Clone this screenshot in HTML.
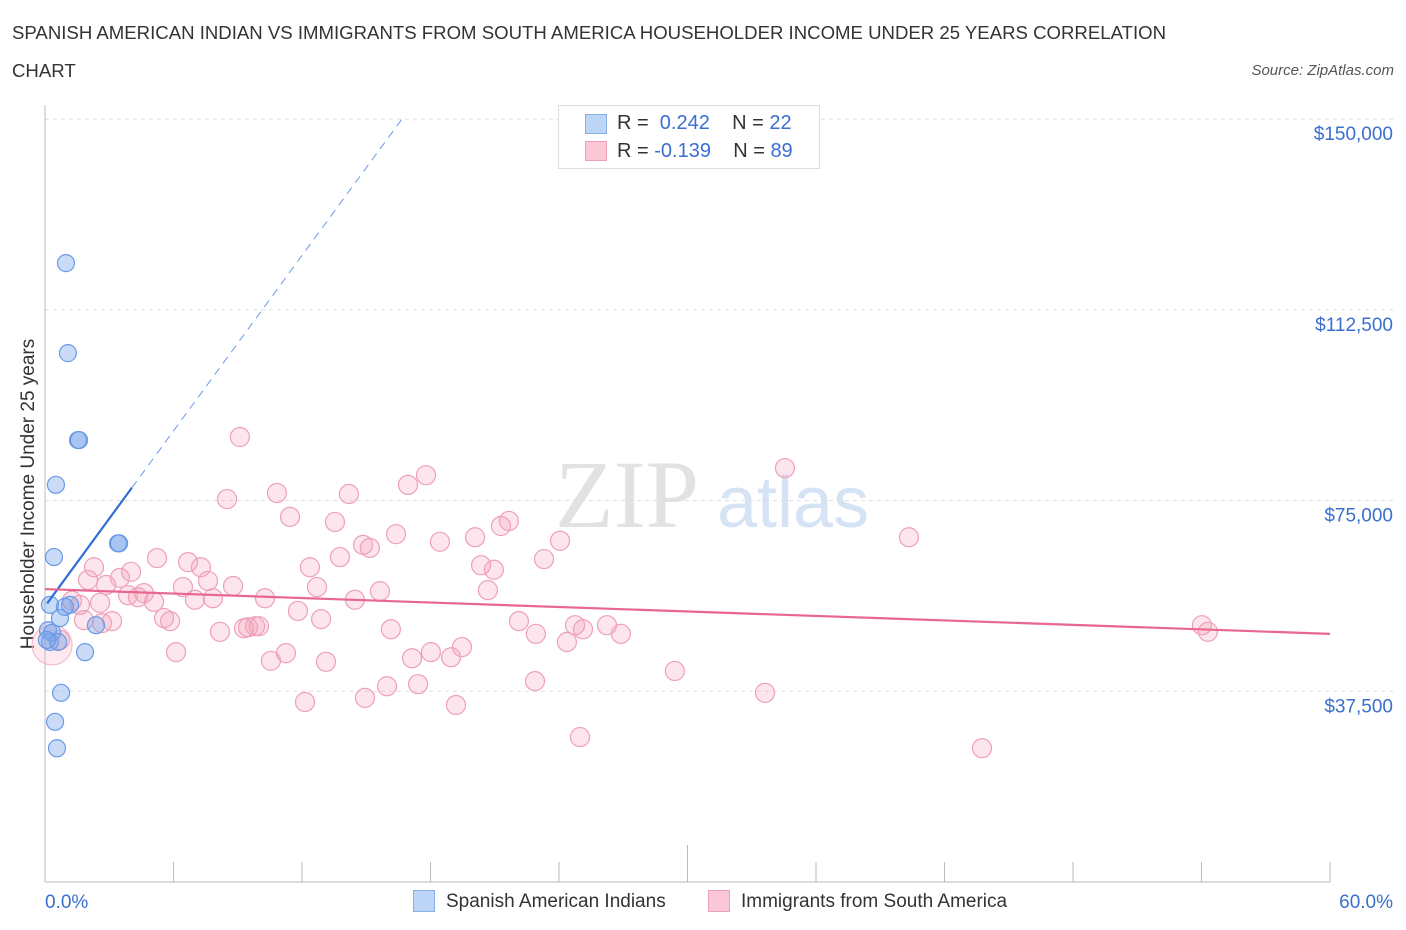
<!DOCTYPE html>
<html><head><meta charset="utf-8"><style>
body{margin:0;background:#fff;font-family:"Liberation Sans",sans-serif;}
#wrap{position:relative;width:1406px;height:930px;overflow:hidden;}
.t{position:absolute;white-space:nowrap;}
</style></head><body>
<div id="wrap">
<div class="t" style="left:12px;top:22px;font-size:18.6px;color:#333;">SPANISH AMERICAN INDIAN VS IMMIGRANTS FROM SOUTH AMERICA HOUSEHOLDER INCOME UNDER 25 YEARS CORRELATION</div>
<div class="t" style="left:12px;top:60px;font-size:18.6px;color:#333;">CHART</div>
<div class="t" style="right:12px;top:62px;font-size:15px;color:#555;font-style:italic;">Source: ZipAtlas.com</div>
<svg id="plot" width="1406" height="930" style="position:absolute;left:0;top:0;"></svg>
</div>
<script>
const blueX=[0.98,1.07,1.54,1.59,0.51,0.42,3.41,3.46,0.23,1.17,0.93,0.70,2.38,0.14,0.33,0.23,0.61,1.87,0.75,0.47,0.56,0.09];
const blueY=[121.7,104.0,86.9,86.9,78.1,63.9,66.6,66.6,54.5,54.5,54.1,51.9,50.5,49.5,49.0,47.2,47.2,45.2,37.2,31.5,26.3,47.6];
const pinkX=[9.10,34.55,17.79,16.95,10.83,8.50,14.19,11.44,13.54,21.66,21.29,16.39,18.44,20.08,24.05,40.34,14.85,15.17,23.30,5.23,6.68,13.77,7.28,20.36,20.96,12.37,2.29,2.01,3.50,4.02,7.61,8.78,6.44,2.85,12.70,15.64,20.68,4.62,3.88,4.34,5.09,7.84,7.00,10.27,14.47,1.26,1.63,2.57,11.81,5.56,5.84,3.13,1.82,2.66,12.89,22.13,24.75,26.24,54.02,9.48,9.81,9.29,9.99,16.15,22.92,25.12,26.89,54.30,8.17,24.37,19.47,18.02,6.12,11.25,17.14,18.96,10.55,13.12,29.41,15.97,17.42,22.88,33.62,12.14,14.94,19.19,24.98,43.75,0.7];
const pinkY=[87.5,81.4,80.0,78.1,76.5,75.3,76.3,71.8,70.8,71.0,70.0,68.4,66.9,67.8,67.1,67.8,66.3,65.7,63.5,63.7,62.9,63.9,61.9,62.3,61.4,61.9,61.9,59.4,59.8,61.0,59.2,58.2,58.0,58.4,58.0,57.2,57.4,56.8,56.4,56.0,55.1,55.8,55.5,55.8,55.5,55.3,54.5,54.9,53.3,51.9,51.3,51.3,51.5,50.9,51.7,51.3,50.5,50.5,50.5,50.1,50.3,49.9,50.3,49.7,48.8,49.7,48.8,49.2,49.2,47.2,46.2,45.2,45.2,45.0,44.0,44.2,43.5,43.3,41.5,38.5,38.9,39.5,37.2,35.4,36.2,34.8,28.5,26.3,47.6];
const yTicks=[37.5,75,112.5,150];
const yTickLabels=["$37,500","$75,000","$112,500","$150,000"];
const blueTrend=[54.2,5.75]; // intercept, slope
const pinkTrend=[57.6,-0.1467];
const X0=45,X1=1330,Y0=882,YPX=190.7/37.5;
const sx=v=>X0+(v/60)*(X1-X0);
const sy=v=>Y0-v*YPX;
const svg=document.getElementById('plot');
const NS='http://www.w3.org/2000/svg';
function mk(tag,attrs){const e=document.createElementNS(NS,tag);for(const k in attrs)e.setAttribute(k,attrs[k]);svg.appendChild(e);return e;}
let w=mk('text',{x:555,y:527,'font-size':96,fill:'#e2e2e2','font-family':'Liberation Serif, serif'});w.textContent='ZIP';


let w2=mk('text',{x:717,y:527,'font-size':72,fill:'#d6e3f5','font-family':'Liberation Sans, sans-serif'});w2.textContent='atlas';


yTicks.forEach((t,i)=>{
 const g=mk('line',{x1:X0,x2:1395,y1:sy(t),y2:sy(t),stroke:'#ddd','stroke-dasharray':'4,4'});
 
 
 const l=mk('text',{x:1393,y:sy(t)+21,'text-anchor':'end','font-size':19,fill:'#3a6fd0'});l.textContent=yTickLabels[i];
 
 
});
let ax=mk('line',{x1:X0,x2:X0,y1:105,y2:Y0,stroke:'#bbb'});


let bx=mk('line',{x1:X0,x2:X1,y1:Y0,y2:Y0,stroke:'#bbb'});


for(let i=0;i<=10;i++){
 const x=sx(i*6);
 const tk=mk('line',{x1:x,x2:x,y1:i==5?845:862,y2:Y0,stroke:'#bbb'});
 
 
}
let xl=mk('text',{x:45,y:908,'font-size':19,fill:'#3a6fd0'});xl.textContent='0.0%';


let xr=mk('text',{x:1393,y:908,'font-size':19,fill:'#3a6fd0','text-anchor':'end'});xr.textContent='60.0%';


let yt=mk('text',{x:0,y:0,'font-size':19,fill:'#333','text-anchor':'middle',transform:'translate(34,494) rotate(-90)'});yt.textContent='Householder Income Under 25 years';


pinkX.forEach((x,i)=>{
 const c=mk('circle',{cx:sx(x),cy:sy(pinkY[i]),r:9.5,fill:'rgba(244,160,185,0.28)',stroke:'#eea0b8','stroke-width':1.2});
 
 
});
let big=mk('circle',{cx:sx(0.33),cy:sy(46.6),r:20,fill:'rgba(244,160,185,0.22)',stroke:'#f2b4c6','stroke-width':1});


blueX.forEach((x,i)=>{
 const c=mk('circle',{cx:sx(x),cy:sy(blueY[i]),r:8.5,fill:'rgba(120,165,235,0.4)',stroke:'#6a9ae6','stroke-width':1.2});
 
 
});
const bxEnd=4.06,bxTop=(150-blueTrend[0])/blueTrend[1];
let bt=mk('line',{x1:sx(0.1),y1:sy(blueTrend[0]+blueTrend[1]*0.1),x2:sx(bxEnd),y2:sy(blueTrend[0]+blueTrend[1]*bxEnd),stroke:'#2f6fd6','stroke-width':2.2});


let bd=mk('line',{x1:sx(bxEnd),y1:sy(blueTrend[0]+blueTrend[1]*bxEnd),x2:sx(bxTop),y2:sy(150),stroke:'#6a9ae6','stroke-width':1,'stroke-dasharray':'8,6'});


let pt=mk('line',{x1:sx(0),y1:sy(pinkTrend[0]),x2:sx(60),y2:sy(pinkTrend[0]+pinkTrend[1]*60),stroke:'#e8678f','stroke-width':2.2});


</script>
<div class="t" style="left:558px;top:105px;width:260px;height:62px;border:1px solid #ddd;background:#fff;">
 <div style="position:absolute;left:26px;top:8px;width:20px;height:18px;background:#bcd4f6;border:1px solid #8ab0ea;"></div>
 <div style="position:absolute;left:58px;top:6px;font-size:20px;color:#333;">R = &nbsp;<span style="color:#3a6fd0">0.242</span>&nbsp;&nbsp;&nbsp; N = <span style="color:#3a6fd0">22</span></div>
 <div style="position:absolute;left:26px;top:35px;width:20px;height:18px;background:#fac8d6;border:1px solid #eea0b8;"></div>
 <div style="position:absolute;left:58px;top:34px;font-size:20px;color:#333;">R = <span style="color:#3a6fd0">-0.139</span>&nbsp;&nbsp;&nbsp; N = <span style="color:#3a6fd0">89</span></div>
</div>
<div class="t" style="left:413px;top:890px;width:20px;height:20px;background:#bcd4f6;border:1px solid #8ab0ea;"></div>
<div class="t" style="left:446px;top:891px;font-size:19px;color:#333;">Spanish American Indians</div>
<div class="t" style="left:708px;top:890px;width:20px;height:20px;background:#fac8d6;border:1px solid #eea0b8;"></div>
<div class="t" style="left:741px;top:891px;font-size:19px;color:#333;">Immigrants from South America</div>
</body></html>
